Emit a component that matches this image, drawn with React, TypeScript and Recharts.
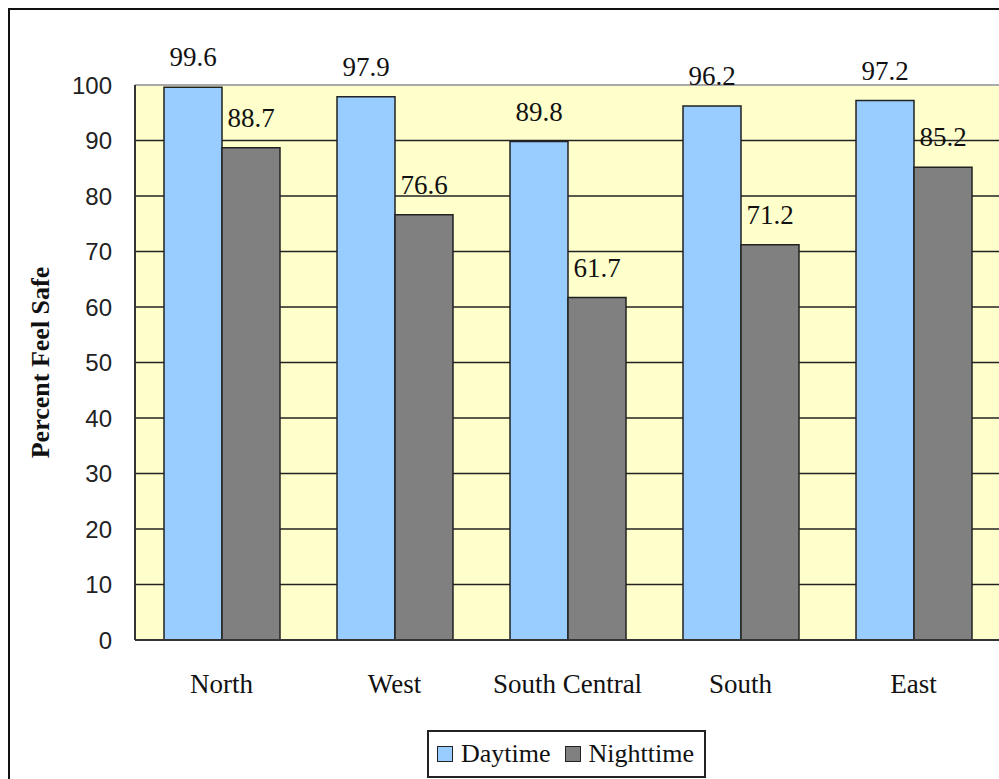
import React from 'react'
import { BarChart, Bar, XAxis, YAxis, CartesianGrid, Legend, LabelList, Label, ReferenceLine } from 'recharts'

const regions = ['North', 'West', 'South Central', 'South', 'East']
const daytime = [99.6, 97.9, 89.8, 96.2, 97.2]
const nighttime = [88.7, 76.6, 61.7, 71.2, 85.2]
const yTicks = [0, 10, 20, 30, 40, 50, 60, 70, 80, 90, 100]

const SERIES = [
  { key: 'Daytime', color: '#99CCFF' },
  { key: 'Nighttime', color: '#808080' },
]

const data = regions.map((region, i) => ({
  region,
  Daytime: daytime[i],
  Nighttime: nighttime[i],
}))

const SERIF = '"Liberation Serif", "Times New Roman", serif'
const SANS = '"Liberation Sans", Arial, sans-serif'

// value sits well above the top of each bar
const renderValue = (props: any) => {
  const { x, y, width, value } = props
  return (
    <text
      x={Number(x) + Number(width) / 2}
      y={Number(y) - 21}
      textAnchor="middle"
      fontFamily={SERIF}
      fontSize={27}
      fill="#111"
    >
      {value}
    </text>
  )
}

const renderLegend = () => (
  <div
    style={{
      boxSizing: 'border-box',
      width: '100%',
      height: '100%',
      border: '2px solid #222',
      background: '#fff',
      display: 'flex',
      alignItems: 'center',
      paddingLeft: 8,
      fontFamily: SERIF,
      fontSize: 26,
      color: '#111',
    }}
  >
    {SERIES.map((s, i) => (
      <span key={s.key} style={{ display: 'flex', alignItems: 'center', marginRight: i === 0 ? 14 : 0 }}>
        <span
          style={{
            display: 'inline-block',
            boxSizing: 'border-box',
            width: 16,
            height: 16,
            background: s.color,
            border: '1.5px solid #222',
            marginRight: 8,
          }}
        />
        {s.key}
      </span>
    ))}
  </div>
)

export default function App() {
  return (
    <div style={{ position: 'absolute', left: 0, top: 0, width: 999, height: 779, overflow: 'hidden', background: '#fff' }}>
      <div
        style={{
          position: 'absolute',
          left: 8,
          top: 8,
          width: 1100,
          height: 900,
          border: '2px solid #111',
        }}
      />
      <div style={{ position: 'absolute', left: 0, top: 0 }}>
        <BarChart
          width={1010}
          height={800}
          data={data}
          margin={{ top: 85, right: 10, bottom: 0, left: 0 }}
          barCategoryGap={29}
          barGap={0}
        >
          <CartesianGrid fill="#FFFFCC" vertical={false} stroke="#222" strokeWidth={1.6} />
          <ReferenceLine y={100} stroke="#aaa" strokeWidth={2} />
          <XAxis
            dataKey="region"
            height={160}
            axisLine={{ stroke: '#333', strokeWidth: 2 }}
            tickLine={false}
            tickSize={6}
            tickMargin={28}
            tick={{ fontFamily: SERIF, fontSize: 27, fill: '#111' }}
          />
          <YAxis
            width={135}
            domain={[0, 100]}
            ticks={yTicks}
            interval={0}
            axisLine={{ stroke: '#333', strokeWidth: 2 }}
            tickLine={false}
            tickSize={6}
            tickMargin={17}
            tick={{ fontFamily: SANS, fontSize: 24, fill: '#222' }}
          >
            <Label
              value="Percent Feel Safe"
              angle={-90}
              position="center"
              dx={-28}
              style={{ fontFamily: SERIF, fontSize: 26, fontWeight: 'bold', fill: '#111' }}
            />
          </YAxis>
          <Legend
            layout="horizontal"
            align="center"
            verticalAlign="middle"
            content={renderLegend}
            wrapperStyle={{ left: 427, top: 730, width: 279, height: 48 }}
          />
          {SERIES.map((s) => (
            <Bar key={s.key} dataKey={s.key} fill={s.color} stroke="#222" strokeWidth={1.5} isAnimationActive={false}>
              <LabelList dataKey={s.key} content={renderValue} />
            </Bar>
          ))}
        </BarChart>
      </div>
    </div>
  )
}
